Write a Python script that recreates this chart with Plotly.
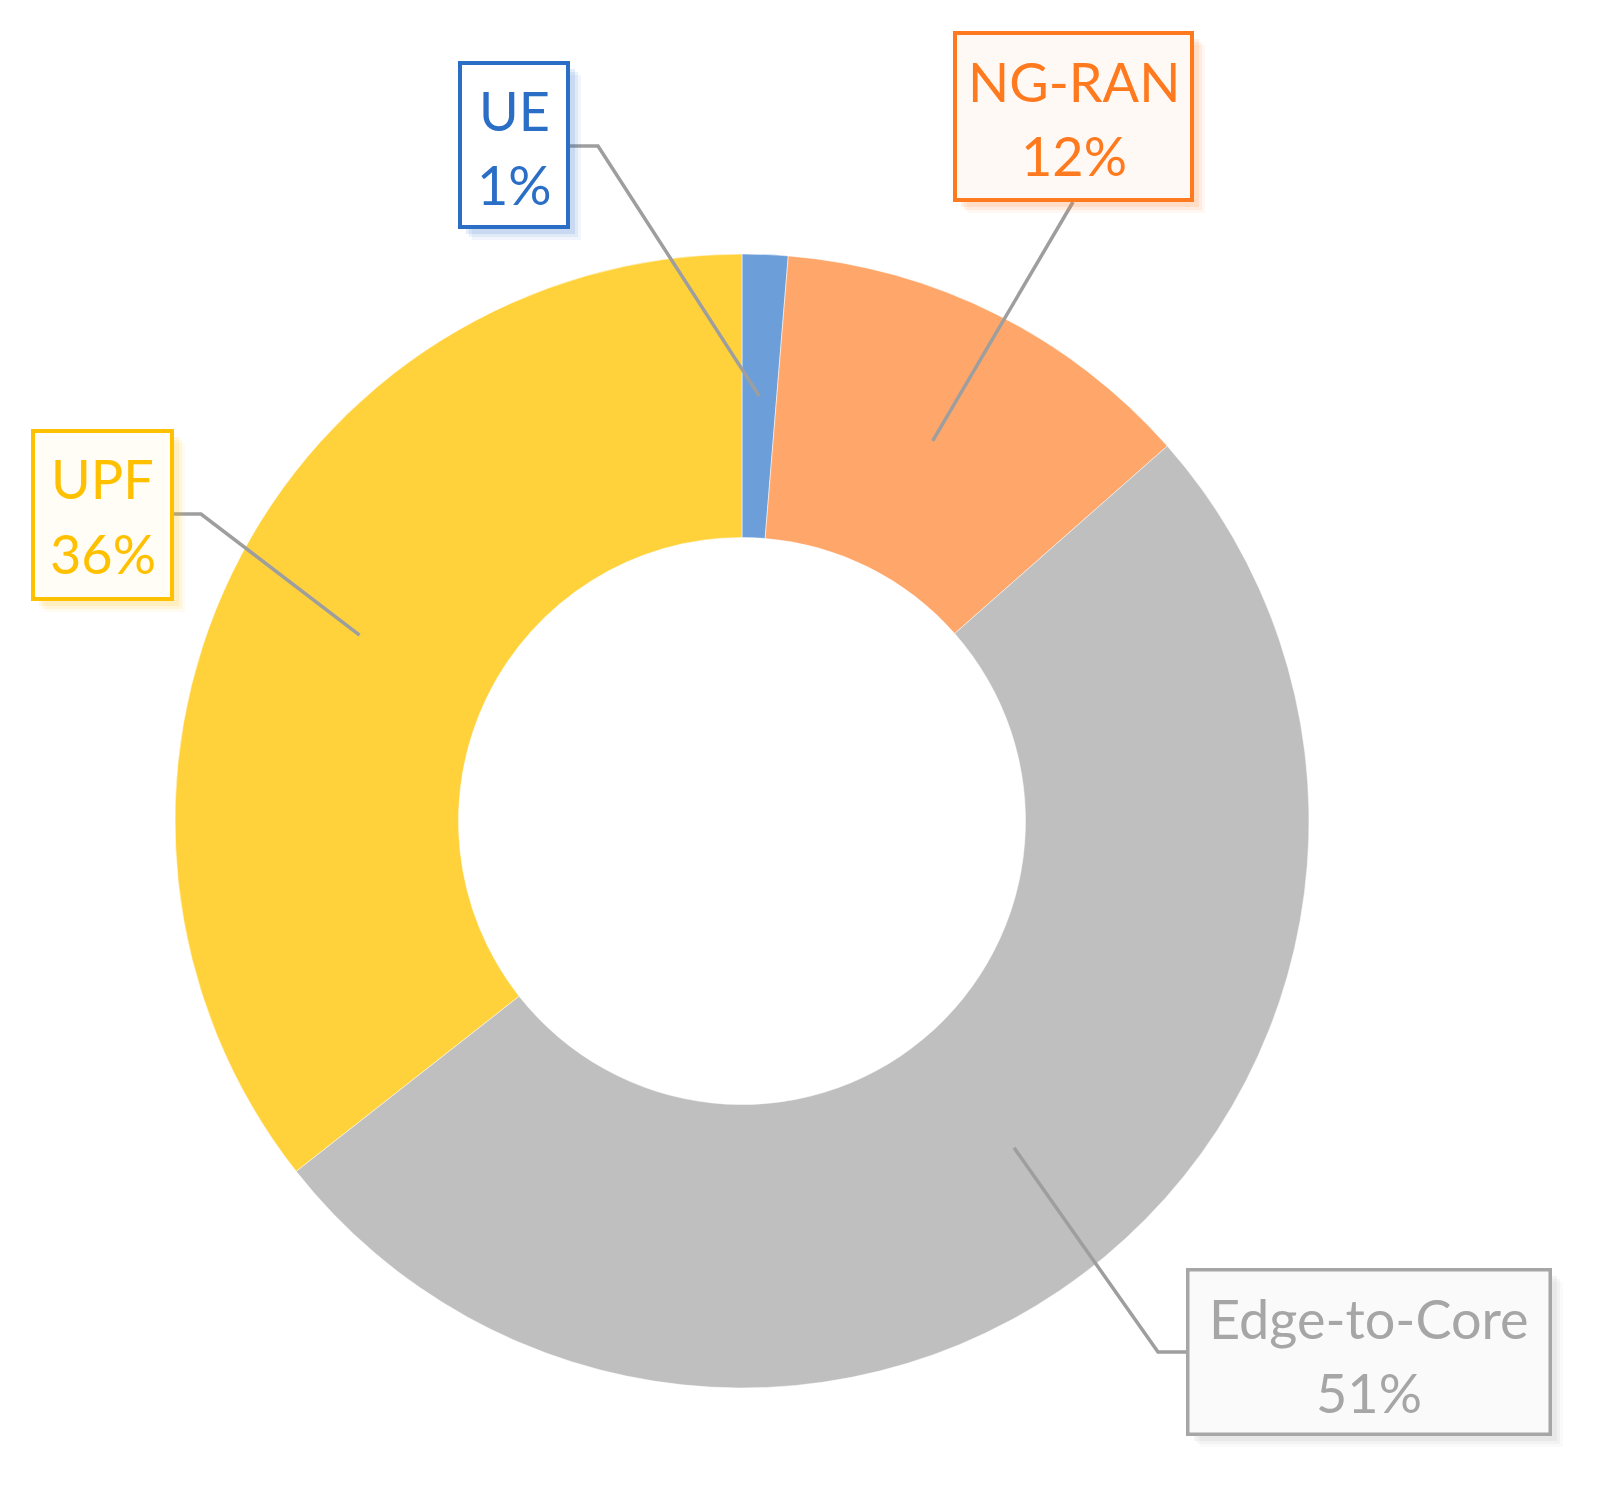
import math
import plotly.graph_objects as go

labels = ["UE", "NG-RAN", "Edge-to-Core", "UPF"]
values = [1.3, 12.2, 50.9, 35.6]
slice_colors = ["#6C9FD9", "#FFA76B", "#BFBFBF", "#FFD23C"]
text_colors = ["#2A6EC6", "#FF7A1E", "#A6A6A6", "#FFC000"]
box_bg = ["#FFFFFF", "#FFF9F5", "#FAFAFA", "#FFFDF6"]

W, H = 1603, 1490
OFF = 8  # page body margin
cx, cy, R = 742, 821, 567

def px(x):
    return (x - OFF) / W

def py(y):
    return 1 - (y - OFF) / H

# label boxes (left, top, right, bottom) in pixels, and where the leader leaves them
boxes = {
    "UE": (458, 61, 570, 229),
    "NG-RAN": (953, 31, 1194, 202),
    "Edge-to-Core": (1186, 1268, 1552, 1436),
    "UPF": (31, 429, 174, 601),
}
leader_start = {
    "UE": [(570, 146), (598, 146)],
    "NG-RAN": [(1073, 202)],
    "Edge-to-Core": [(1186, 1352), (1158, 1352)],
    "UPF": [(174, 514), (201, 514)],
}

fig = go.Figure(go.Pie(
    labels=labels,
    values=values,
    hole=0.5,
    sort=False,
    direction="clockwise",
    rotation=0,
    textinfo="none",
    marker=dict(colors=slice_colors, line=dict(color="white", width=0.5)),
    domain=dict(x=[px(cx - R), px(cx + R)], y=[py(cy + R), py(cy - R)]),
    showlegend=False,
))

total = sum(values)
cum = 0
lines, shadows, rects, annotations = [], [], [], []
for lab, val, tc, bg in zip(labels, values, text_colors, box_bg):
    mid = (cum + val / 2) / total * 2 * math.pi
    cum += val
    ax = cx + 0.75 * R * math.sin(mid)
    ay = cy - 0.75 * R * math.cos(mid)
    pts = leader_start[lab] + [(ax, ay)]
    path = "M " + " L ".join(f"{px(x)},{py(y)}" for x, y in pts)
    lines.append(dict(type="path", xref="paper", yref="paper", path=path,
                      line=dict(color="#9E9E9E", width=3.5)))
    l, t, r, b = boxes[lab]
    bw = 4 if lab != "Edge-to-Core" else 3.5
    # soft shadow
    for k, op in [(11, 0.06), (8, 0.09), (5, 0.12)]:
        shadows.append(dict(type="rect", xref="paper", yref="paper",
                            x0=px(l + 3 + k), x1=px(r + k), y0=py(b + k), y1=py(t + 3 + k),
                            line=dict(width=0), fillcolor=tc, opacity=op, layer="above"))
    rects.append(dict(type="rect", xref="paper", yref="paper",
                      x0=px(l + bw / 2), x1=px(r - bw / 2), y0=py(b - bw / 2), y1=py(t + bw / 2),
                      line=dict(color=tc, width=bw), fillcolor=bg, layer="above"))
    for dy, txt in [(50, lab), (124, f"{round(val / total * 100)}%")]:
        annotations.append(dict(
            x=px((l + r) / 2), y=py(t + dy), xref="paper", yref="paper",
            xanchor="center", yanchor="middle", showarrow=False, text=txt,
            font=dict(family="Lato, Carlito, sans-serif", size=54, color=tc),
        ))

fig.update_layout(
    width=W, height=H,
    margin=dict(l=0, r=0, t=0, b=0),
    paper_bgcolor="white",
    plot_bgcolor="white",
    shapes=lines + shadows + rects,
    annotations=annotations,
)

fig.write_html("out.html")
